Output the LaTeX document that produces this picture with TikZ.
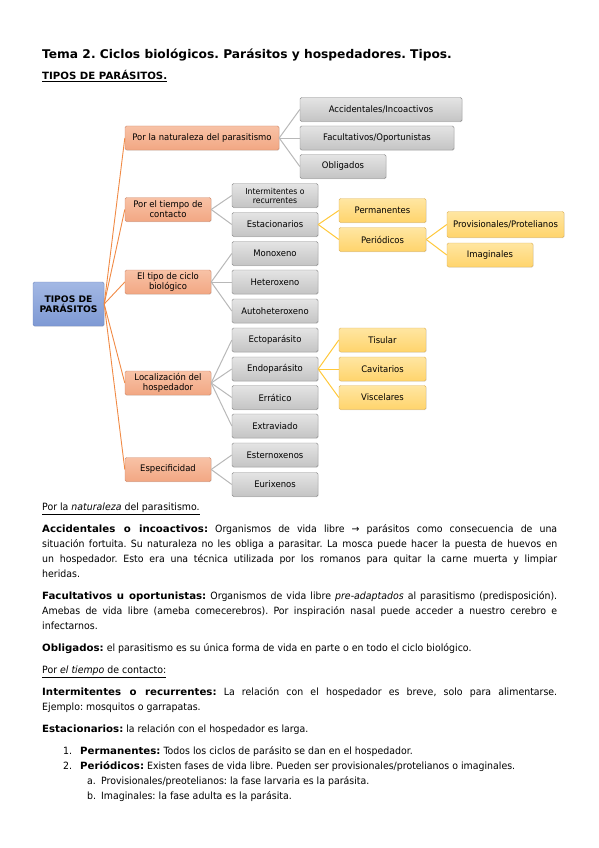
\documentclass[tikz,border=0pt]{standalone}
\usepackage{fontspec}
\setmainfont{DejaVu Sans}[FakeStretch=0.94, BoldFeatures={FakeStretch=1.02}]
\frenchspacing
\usetikzlibrary{shadows}
% colours of the map
\definecolor{rootTop}{HTML}{A3B8E4}
\definecolor{rootBot}{HTML}{7E99D4}
\definecolor{rootLine}{HTML}{6F88BE}
\definecolor{orTop}{HTML}{F8C2A6}
\definecolor{orBot}{HTML}{F2A783}
\definecolor{orLine}{HTML}{D08A6C}
\definecolor{orWire}{HTML}{F08A45}
\definecolor{grTop}{HTML}{E4E4E4}
\definecolor{grBot}{HTML}{C4C4C4}
\definecolor{grLine}{HTML}{8A8A8A}
\definecolor{grWire}{HTML}{B8B8B8}
\definecolor{yeTop}{HTML}{FFE6A2}
\definecolor{yeBot}{HTML}{FFD46C}
\definecolor{yeLine}{HTML}{DDB25A}
\definecolor{yeWire}{HTML}{FFC83A}
\tikzset{
  box/.style={rounded corners=1.5pt, thin, align=center, inner sep=1pt,
    minimum height=24pt, font=\fontsize{9}{10}\selectfont,
    drop shadow={opacity=0.25, shadow xshift=0.6pt, shadow yshift=-0.6pt}},
  rootbox/.style={box, top color=rootTop, bottom color=rootBot, draw=rootLine,
    font=\bfseries\fontsize{9}{10.5}\selectfont, minimum width=71pt, minimum height=44pt},
  catbox/.style={box, top color=orTop, bottom color=orBot, draw=orLine, minimum width=86pt},
  typbox/.style={box, top color=grTop, bottom color=grBot, draw=grLine, minimum width=86pt},
  subbox/.style={box, top color=yeTop, bottom color=yeBot, draw=yeLine, minimum width=87pt},
  orwire/.style={draw=orWire, line width=0.9pt},
  grwire/.style={draw=grWire, line width=1pt},
  yewire/.style={draw=yeWire, line width=1pt},
}
\begin{document}
\begin{tikzpicture}[x=1pt, y=-1pt]
    \useasboundingbox (0,0) rectangle (599,848);
    % Titles
    \node[anchor=base west, inner sep=0pt, font=\bfseries\fontsize{12}{14}\selectfont] (title) at (42,59)
        {Tema 2. Ciclos biológicos. Parásitos y hospedadores. Tipos.};
    \node[anchor=base west, inner sep=0pt, font=\bfseries\fontsize{10}{12}\selectfont] (subtitle) at (42,80)
        {\underline{TIPOS DE PARÁSITOS.}};
    % Root and criteria
    \node[rootbox] (root) at (68.5,304) {TIPOS DE\\PARÁSITOS};
    \node[catbox, minimum width=154pt] (nat) at (202,138) {Por la naturaleza del parasitismo};
    \node[catbox] (tiempo) at (168,209.5) {Por el tiempo de\\contacto};
    \node[catbox] (ciclo) at (168,282) {El tipo de ciclo\\biológico};
    \node[catbox] (local) at (168,383) {Localización del\\hospedador};
    \node[catbox] (espec) at (168,469.5) {Especificidad};
    % Types
    \node[typbox, minimum width=162pt] (accid) at (381,109.5) {Accidentales/Incoactivos};
    \node[typbox, minimum width=154pt] (facul) at (377,138) {Facultativos/Oportunistas};
    \node[typbox] (oblig) at (343,166.5) {Obligados};
    \node[typbox, font=\fontsize{8.2}{9}\selectfont] (inter) at (275,195.5) {Intermitentes o\\recurrentes};
    \node[typbox] (estac) at (275,224.5) {Estacionarios};
    \node[typbox] (mono) at (275,253.5) {Monoxeno};
    \node[typbox] (hetero) at (275,282) {Heteroxeno};
    \node[typbox] (auto) at (275,311) {Autoheteroxeno};
    \node[typbox] (ecto) at (275,340) {Ectoparásito};
    \node[typbox] (endo) at (275,369) {Endoparásito};
    \node[typbox] (erra) at (275,397.5) {Errático};
    \node[typbox] (extra) at (275,426) {Extraviado};
    \node[typbox] (ester) at (275,455) {Esternoxenos};
    \node[typbox] (euri) at (275,484.5) {Eurixenos};
    % Subtypes
    \node[subbox] (perma) at (382.5,210.5) {Permanentes};
    \node[subbox] (perio) at (382.5,239.5) {Periódicos};
    \node[subbox, minimum width=117pt, minimum height=26pt] (provi) at (505.5,224.5) {Provisionales/Protelianos};
    \node[subbox, minimum width=86pt] (imagi) at (490,255) {Imaginales};
    \node[subbox] (tisu) at (382.5,340) {Tisular};
    \node[subbox] (cavi) at (382.5,369) {Cavitarios};
    \node[subbox] (visce) at (382.5,397.5) {Viscelares};
    % Lines
    \foreach \cat in {nat,tiempo,ciclo,local,espec}
        \draw[orwire] (root.east) -- (\cat.west);
    \foreach \typ in {accid,facul,oblig}
        \draw[grwire] (nat.east) -- (\typ.west);
    \draw[grwire] (tiempo.east) -- (inter.west);
    \draw[grwire] (tiempo.east) -- (estac.west);
    \foreach \typ in {mono,hetero,auto}
        \draw[grwire] (ciclo.east) -- (\typ.west);
    \foreach \typ in {ecto,endo,erra,extra}
        \draw[grwire] (local.east) -- (\typ.west);
    \draw[grwire] (espec.east) -- (ester.west);
    \draw[grwire] (espec.east) -- (euri.west);
    \draw[yewire] (estac.east) -- (perma.west);
    \draw[yewire] (estac.east) -- (perio.west);
    \draw[yewire] (perio.east) -- (provi.west);
    \draw[yewire] (perio.east) -- (imagi.west);
    \foreach \sub in {tisu,cavi,visce}
        \draw[yewire] (endo.east) -- (\sub.west);
    % Text below the map
    \node[anchor=north west, inner sep=0pt, text width=515pt, align=justify,
          font=\fontsize{10}{15}\selectfont] (body) at (42,503) {%
        \setlength{\parskip}{7pt}\setlength{\parindent}{0pt}%
        \underline{Por la \textit{naturaleza} del parasitismo.}\par
        \textbf{Accidentales o incoactivos:} Organismos de vida libre → parásitos como consecuencia de una\linebreak
        situación fortuita. Su naturaleza no les obliga a parasitar. La mosca puede hacer la puesta de huevos en\linebreak
        un hospedador. Esto era una técnica utilizada por los romanos para quitar la carne muerta y limpiar\linebreak
        heridas.\par
        \textbf{Facultativos u oportunistas:} Organismos de vida libre \textit{pre-adaptados} al parasitismo (predisposición).\linebreak
        Amebas de vida libre (ameba comecerebros). Por inspiración nasal puede acceder a nuestro cerebro e\linebreak
        infectarnos.\par
        \textbf{Obligados:} el parasitismo es su única forma de vida en parte o en todo el ciclo biológico.\par
        \underline{Por \textit{el tiempo} de contacto:}\par
        \textbf{Intermitentes o recurrentes:} La relación con el hospedador es breve, solo para alimentarse.\linebreak
        Ejemplo: mosquitos o garrapatas.\par
        \textbf{Estacionarios:} la relación con el hospedador es larga.\par
        \hspace*{21pt}\makebox[17pt][l]{1.}\textbf{Permanentes:} Todos los ciclos de parásito se dan en el hospedador.\\
        \hspace*{21pt}\makebox[17pt][l]{2.}\textbf{Periódicos:} Existen fases de vida libre. Pueden ser provisionales/protelianos o imaginales.\\
        \hspace*{45pt}\makebox[14pt][l]{a.}Provisionales/preotelianos: la fase larvaria es la parásita.\\
        \hspace*{45pt}\makebox[14pt][l]{b.}Imaginales: la fase adulta es la parásita.\par
    };
\end{tikzpicture}
\end{document}
